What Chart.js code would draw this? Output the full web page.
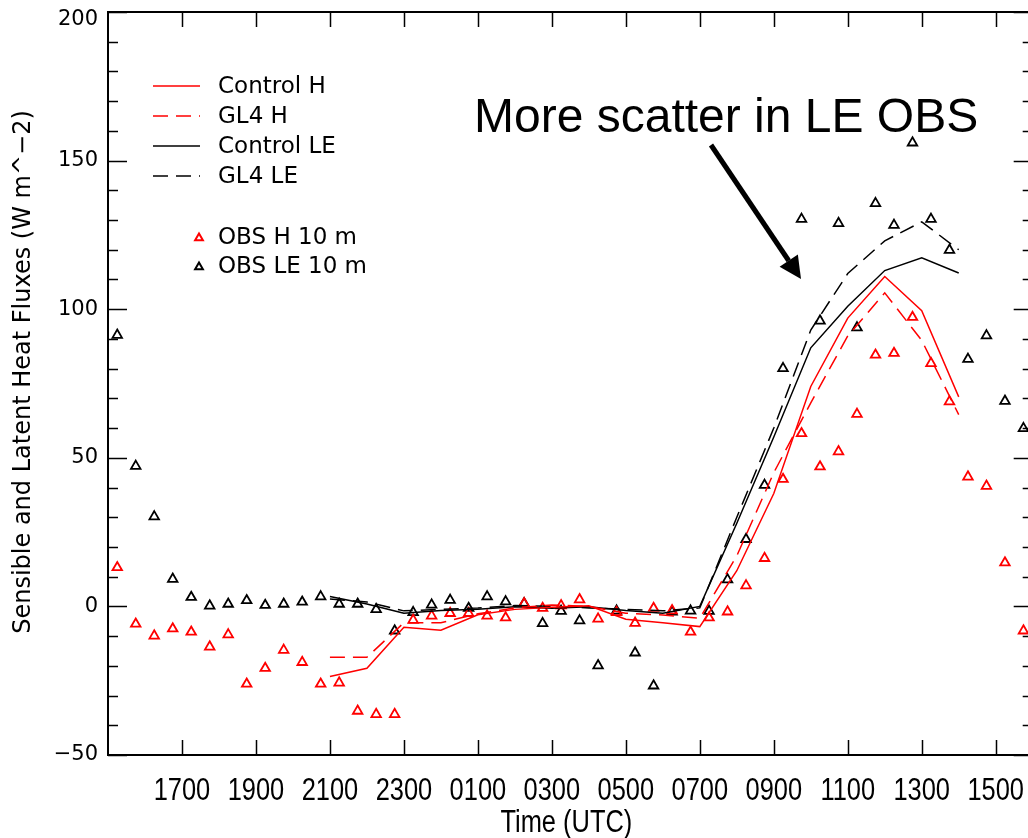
<!DOCTYPE html>
<html>
<head>
<meta charset="utf-8">
<title>Sensible and latent heat fluxes</title>
<script src="https://cdn.jsdelivr.net/npm/chart.js@4.4.1/dist/chart.umd.min.js"></script>
<style>
  html, body { margin: 0; padding: 0; background: #fff; overflow: hidden; }
  #wrap { width: 1040px; height: 838px; }
</style>
</head>
<body>
<div id="wrap"><canvas id="fluxChart" width="1040" height="838"></canvas></div>
<script>
// time is counted in hours after 1500 UTC on the first day

// model output, hourly from 2100 to 1400 UTC
var modelHours = [6, 7, 8, 9, 10, 11, 12, 13, 14, 15, 16, 17, 18, 19, 20, 21, 22, 23];
var controlH  = [-23.6, -20.8, -7.0, -8.0, -2.8, -1.0, -0.3, 0.2, -4.3, -5.5, -6.8, 12, 38, 74, 97, 111, 99.5, 70.5];
var gl4H      = [-17.1, -17.1, -5.5, -5.5, -2.5, -0.5, 0.5, 0.0, -2.3, -2.9, -4.0, 17, 45, 68.5, 91, 105.5, 89.5, 64.5];
var controlLE = [3.3, 0.8, -2.3, -1.4, -1.0, -0.1, -0.6, -0.1, -1.4, -2.3, 0.0, 28, 57, 87, 101, 113, 117.3, 112.2];
var gl4LE     = [2.5, 1.5, -1.5, -1.0, -0.5, 0.3, 0.0, -0.5, -1.0, -1.5, -0.5, 30, 60, 93, 112, 123, 129.4, 120];

// half-hourly flux tower observations at 10 m
var obsHours = [0.25, 0.75, 1.25, 1.75, 2.25, 2.75, 3.25, 3.75, 4.25, 4.75,
                5.25, 5.75, 6.25, 6.75, 7.25, 7.75, 8.25, 8.75, 9.25, 9.75,
                10.25, 10.75, 11.25, 11.75, 12.25, 12.75, 13.25, 13.75, 14.25, 14.75,
                15.25, 15.75, 16.25, 16.75, 17.25, 17.75, 18.25, 18.75, 19.25, 19.75,
                20.25, 20.75, 21.25, 21.75, 22.25, 22.75, 23.25, 23.75, 24.25, 24.75];
var obsH = [13.1, -5.9, -9.9, -7.5, -8.6, -13.6, -9.5, -26.1, -20.8, -14.7,
            -18.8, -26.1, -25.7, -35.2, -36.3, -36.3, -4.6, -3.2, -2.3, -2.3,
            -3.2, -3.8, 1.0, -0.6, 0.3, 2.3, -4.2, -2.0, -5.6, -0.6,
            -1.4, -8.6, -3.8, -1.8, 7.0, 16.2, 42.8, 58.2, 47.0, 52.1,
            64.7, 84.6, 85.2, 97.3, 81.8, 68.9, 43.6, 40.5, 14.7, -8.2];
var obsLE = [91.3, 47.2, 30.2, 9.2, 3.1, 0.2, 0.8, 2.0, 0.4, 0.8,
             1.5, 3.3, 0.8, 0.8, -1.0, -8.2, -2.0, 0.5, 2.1, -0.6,
             3.3, 1.6, 1.0, -5.7, -1.6, -4.8, -19.9, -1.5, -15.6, -26.7,
             -1.8, -1.5, -1.6, 9.0, 22.6, 40.8, 80.1, 130.3, 96.1, 128.9,
             93.8, 135.6, 128.3, 156.0, 130.3, 119.9, 83.2, 91.1, 69.1, 59.9];

var tickHours  = [2, 4, 6, 8, 10, 12, 14, 16, 18, 20, 22, 24];
var tickLabels = ['1700', '1900', '2100', '2300', '0100', '0300', '0500', '0700', '0900', '1100', '1300', '1500'];

function pairs(xs, ys) {
  return xs.map(function(x, i) { return { x: x, y: ys[i] }; });
}

function lineSet(label, xs, ys, color, dash) {
  return {
    label: label,
    data: pairs(xs, ys),
    showLine: true,
    borderColor: color,
    borderWidth: 1.5,
    borderDash: dash,
    pointRadius: 0,
    fill: false
  };
}

function obsSet(label, ys, color) {
  return {
    label: label,
    data: pairs(obsHours, ys),
    showLine: false,
    pointStyle: 'triangle',
    pointRadius: 5.5,
    pointBorderWidth: 1.8,
    pointBorderColor: color,
    pointBackgroundColor: 'rgba(255,255,255,0)',
    borderColor: color
  };
}

function triangle(ctx, x, y, r) {
  ctx.beginPath();
  ctx.moveTo(x, y - r);
  ctx.lineTo(x + r * 0.866, y + r * 0.5);
  ctx.lineTo(x - r * 0.866, y + r * 0.5);
  ctx.closePath();
  ctx.stroke();
}

// box around the plot with inward ticks on all four sides
var framePlugin = {
  id: 'frame',
  afterDatasetsDraw: function(chart) {
    var ctx = chart.ctx, a = chart.chartArea;
    var xs = chart.scales.x, ys = chart.scales.y;
    ctx.save();
    ctx.strokeStyle = '#000';
    ctx.lineWidth = 2;
    ctx.strokeRect(a.left, a.top, a.right - a.left, a.bottom - a.top);
    ctx.beginPath();
    for (var v = -50; v <= 200; v += 10) {
      var py = Math.round(ys.getPixelForValue(v)) + 0.5;
      var len = (v % 50 === 0) ? 19 : 10;
      ctx.moveTo(a.left, py); ctx.lineTo(a.left + len, py);
      ctx.moveTo(a.right, py); ctx.lineTo(a.right - len, py);
    }
    tickHours.forEach(function(h) {
      var px = Math.round(xs.getPixelForValue(h)) + 0.5;
      ctx.moveTo(px, a.bottom); ctx.lineTo(px, a.bottom - 15);
      ctx.moveTo(px, a.top); ctx.lineTo(px, a.top + 15);
    });
    ctx.lineWidth = 1.5;
    ctx.stroke();
    ctx.restore();
  }
};

// tick labels and titles of both axes
var axisTextPlugin = {
  id: 'axisText',
  afterDraw: function(chart) {
    var ctx = chart.ctx, a = chart.chartArea;
    var xs = chart.scales.x, ys = chart.scales.y;
    ctx.save();
    ctx.fillStyle = '#000';

    // narrow time labels under the plot
    ctx.font = '31px "Liberation Sans", Arial, sans-serif';
    ctx.textAlign = 'center';
    ctx.textBaseline = 'alphabetic';
    tickHours.forEach(function(h, i) {
      ctx.save();
      ctx.translate(xs.getPixelForValue(h), 800);
      ctx.scale(0.82, 1);
      ctx.fillText(tickLabels[i], 0, 0);
      ctx.restore();
    });
    ctx.save();
    ctx.translate((a.left + a.right) / 2 - 4, 832);
    ctx.scale(0.82, 1);
    ctx.fillText('Time (UTC)', 0, 0);
    ctx.restore();

    // flux labels, the top one kept clear of the page edge
    ctx.font = '21px "DejaVu Sans"';
    ctx.textAlign = 'right';
    ctx.textBaseline = 'middle';
    ys.ticks.forEach(function(t) {
      var py = Math.max(ys.getPixelForValue(t.value), a.top + 8);
      var txt = t.value < 0 ? '\u2212' + Math.abs(t.value) : String(t.value);
      ctx.fillText(txt, a.left - 10, py);
    });

    ctx.font = '24px "DejaVu Sans"';
    ctx.textAlign = 'center';
    ctx.translate(24, 372);
    ctx.rotate(-Math.PI / 2);
    ctx.fillText('Sensible and Latent Heat Fluxes (W m^\u22122)', 0, 0);
    ctx.restore();
  }
};

// legend block in the upper left corner
var legendPlugin = {
  id: 'boxLegend',
  afterDraw: function(chart) {
    var ctx = chart.ctx;
    var rowY = [86, 116, 146, 176, 237, 266];
    ctx.save();
    ctx.font = '23px "DejaVu Sans"';
    ctx.textBaseline = 'middle';
    chart.data.datasets.forEach(function(ds, i) {
      var y = rowY[i];
      if (ds.showLine) {
        ctx.strokeStyle = ds.borderColor;
        ctx.lineWidth = ds.borderWidth;
        ctx.setLineDash(ds.borderDash || []);
        ctx.beginPath();
        ctx.moveTo(153, y);
        ctx.lineTo(200, y);
        ctx.stroke();
        ctx.setLineDash([]);
      } else {
        ctx.strokeStyle = ds.pointBorderColor;
        ctx.lineWidth = 2;
        triangle(ctx, 199, y + 1, 4.5);
      }
      ctx.fillStyle = '#000';
      ctx.fillText(ds.label, 218, y + 1);
    });
    ctx.restore();
  }
};

// callout text with an arrow pointing at the daytime LE observations
var notePlugin = {
  id: 'note',
  afterDraw: function(chart) {
    var ctx = chart.ctx;
    ctx.save();
    ctx.fillStyle = '#000';
    ctx.font = '48px "Liberation Sans", Arial, sans-serif';
    ctx.textBaseline = 'alphabetic';
    ctx.fillText('More scatter in LE OBS', 474, 132);

    var x0 = 711, y0 = 145, x1 = 801, y1 = 279;
    var ang = Math.atan2(y1 - y0, x1 - x0);
    var head = 22, half = 11;
    var bx = x1 - head * Math.cos(ang), by = y1 - head * Math.sin(ang);
    ctx.strokeStyle = '#000';
    ctx.lineWidth = 5;
    ctx.beginPath();
    ctx.moveTo(x0, y0);
    ctx.lineTo(bx, by);
    ctx.stroke();
    ctx.beginPath();
    ctx.moveTo(x1, y1);
    ctx.lineTo(bx + half * Math.sin(ang), by - half * Math.cos(ang));
    ctx.lineTo(bx - half * Math.sin(ang), by + half * Math.cos(ang));
    ctx.closePath();
    ctx.fill();
    ctx.restore();
  }
};

var ctx = document.getElementById('fluxChart');

var fluxChart = new Chart(ctx, {
  type: 'scatter',
  data: {
    datasets: [
      lineSet('Control H', modelHours, controlH, '#ff0000', []),
      lineSet('GL4 H', modelHours, gl4H, '#ff0000', [15, 8]),
      lineSet('Control LE', modelHours, controlLE, '#000000', []),
      lineSet('GL4 LE', modelHours, gl4LE, '#000000', [15, 8]),
      obsSet('OBS H 10 m', obsH, '#ff0000'),
      obsSet('OBS LE 10 m', obsLE, '#000000')
    ]
  },
  options: {
    responsive: false,
    animation: false,
    layout: { padding: { top: 12, right: 6, left: 0, bottom: 0 } },
    plugins: {
      legend: { display: false },
      tooltip: { enabled: false }
    },
    scales: {
      x: {
        type: 'linear',
        min: 0,
        max: 25,
        grid: { display: false, drawTicks: false },
        border: { display: false },
        afterBuildTicks: function(scale) {
          scale.ticks = tickHours.map(function(h) { return { value: h }; });
        },
        afterFit: function(scale) {
          scale.height = 83;
          scale.paddingLeft = 0;
          scale.paddingRight = 0;
        },
        ticks: { display: false }
      },
      y: {
        min: -50,
        max: 200,
        grid: { display: false, drawTicks: false },
        border: { display: false },
        afterFit: function(scale) {
          scale.width = 108;
          scale.paddingTop = 0;
          scale.paddingBottom = 0;
        },
        ticks: { display: false, stepSize: 50 }
      }
    }
  },
  plugins: [framePlugin, axisTextPlugin, legendPlugin, notePlugin]
});
</script>
</body>
</html>
